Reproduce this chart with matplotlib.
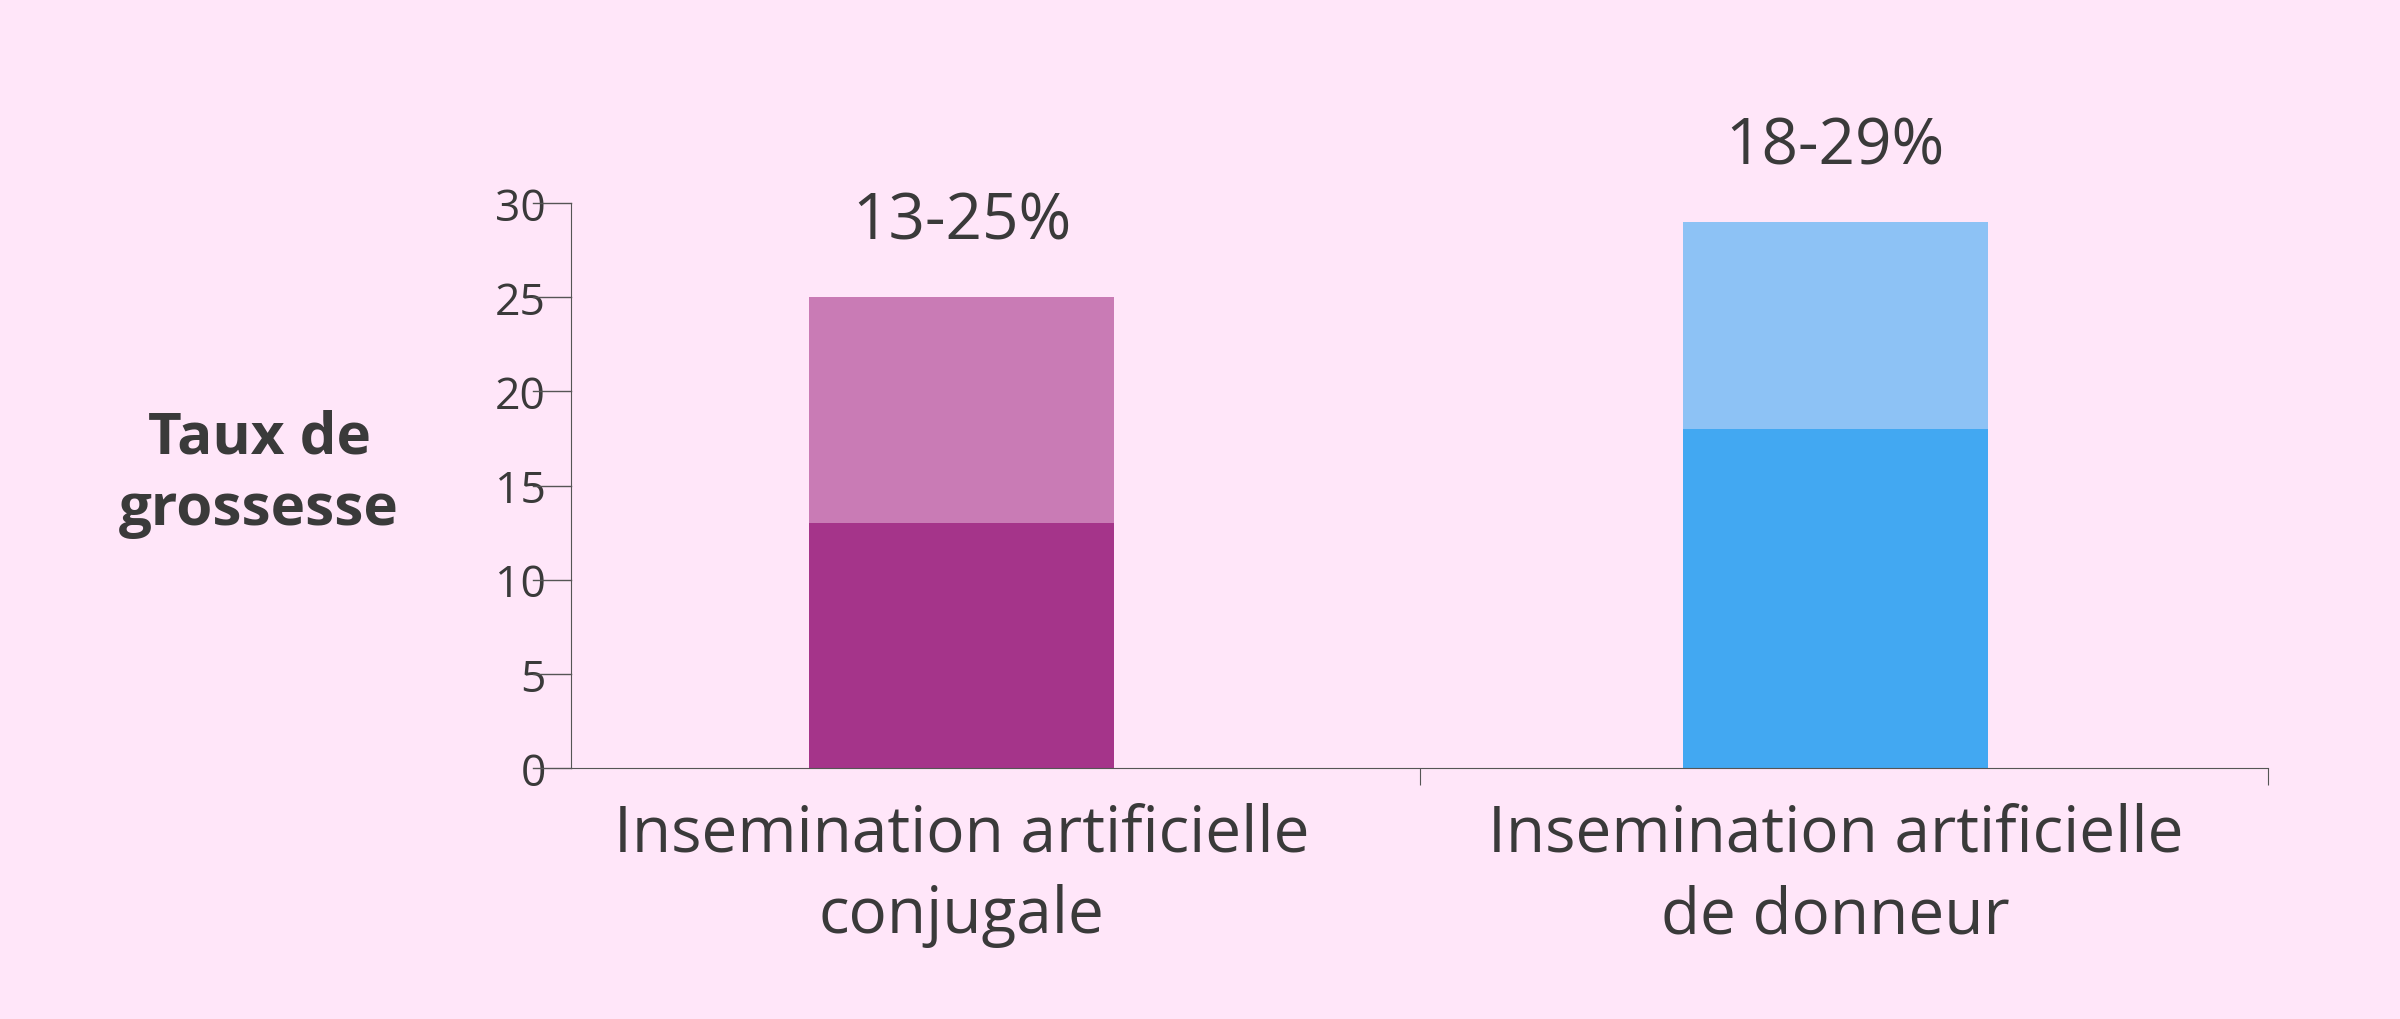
import matplotlib
matplotlib.use("Agg")
import matplotlib.pyplot as plt

categories = ["Insemination artificielle\nconjugale", "Insemination artificielle\nde donneur"]
low_vals = [13, 18]
high_vals = [25, 29]
labels = ["13-25%", "18-29%"]
yticks = [0, 5, 10, 15, 20, 25, 30]

bg = "#FFE6F9"
dark_cols = ["#A5348A", "#42A8F2"]
light_cols = ["#C97BB5", "#8DC2F5"]
txt = "#3a3a3a"

plt.rcParams['font.family'] = ['Open Sans', 'DejaVu Sans']
fig = plt.figure(figsize=(24, 10.2), dpi=100, facecolor=bg)
ax = fig.add_axes([0.238, 0.246, 0.707, 0.554], facecolor=bg)

pos = [0.46, 1.49]
w = 0.36
for i in range(2):
    ax.bar(pos[i], low_vals[i], width=w, color=dark_cols[i])
    ax.bar(pos[i], high_vals[i] - low_vals[i], bottom=low_vals[i], width=w, color=light_cols[i])
    ax.text(pos[i], high_vals[i] + 2.3, labels[i], ha="center", va="bottom", fontsize=46, color=txt)

ax.set_xlim(0, 2)
ax.set_ylim(0, 30)
ax.set_yticks(yticks)
ax.set_xticks([1, 2])
ax.set_xticklabels([])
ax.tick_params(axis="y", labelsize=32, colors=txt, length=40, width=1, pad=6, direction="in")
ax.tick_params(axis="y", direction="out", length=0)
for y in yticks:
    ax.plot([-0.045, 0], [y, y], color="#555555", lw=1, clip_on=False)
ax.tick_params(axis="x", length=12, color="#555555")
for i in range(2):
    ax.text(pos[i], -1.8, categories[i], ha="center", va="top", fontsize=46, color=txt, linespacing=1.35)
for s in ["top", "right"]:
    ax.spines[s].set_visible(False)
for s in ["left", "bottom"]:
    ax.spines[s].set_color("#555555")
for t in ax.get_yticklabels():
    t.set_x(-0.01)

fig.text(0.108, 0.535, "Taux de\ngrossesse", ha="center", va="center", fontsize=42,
         fontweight="bold", color=txt, linespacing=1.3)

fig.savefig("out.png", dpi=100, facecolor=bg)
